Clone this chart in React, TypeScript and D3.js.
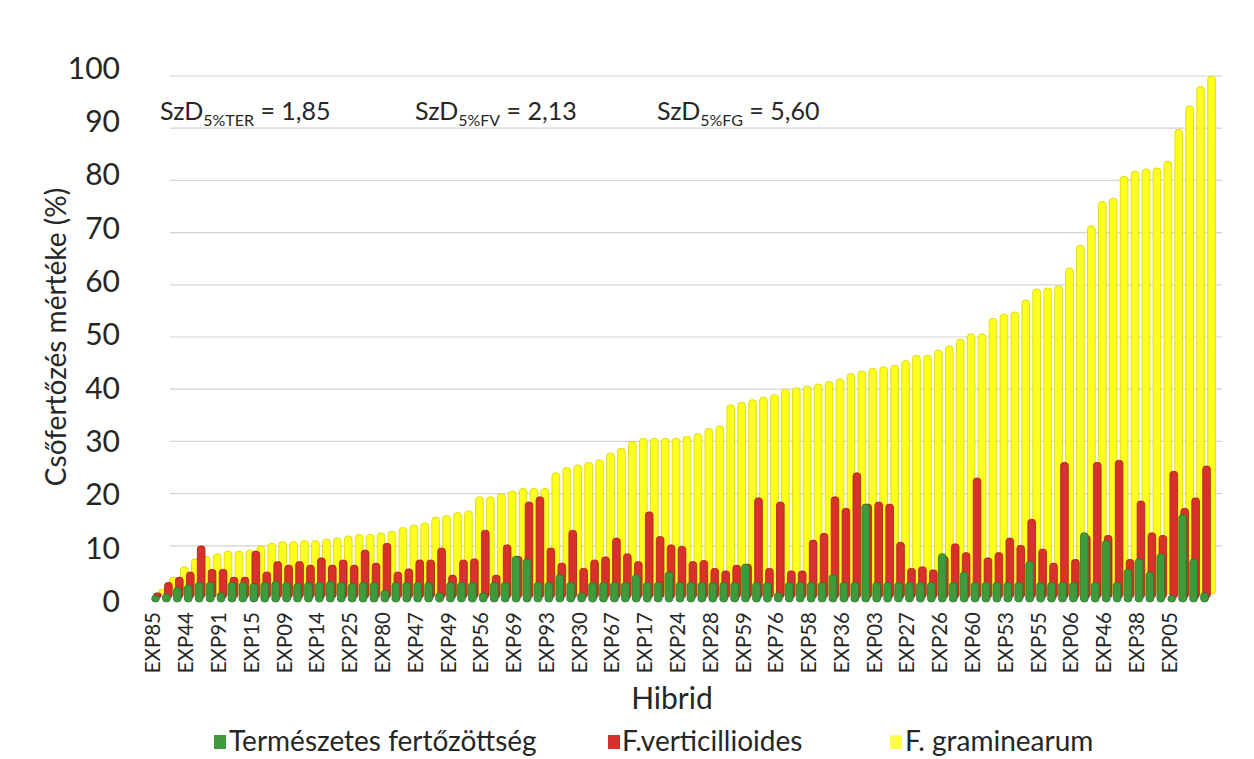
import React from 'react'
import * as d3 from 'd3'

// shown tick labels (Excel shows every 3rd hybrid)
const hybridLabels = ['EXP85', 'EXP44', 'EXP91', 'EXP15', 'EXP09', 'EXP14', 'EXP25', 'EXP80', 'EXP47', 'EXP49', 'EXP56',
  'EXP69', 'EXP93', 'EXP30', 'EXP67', 'EXP17', 'EXP24', 'EXP28', 'EXP59', 'EXP76', 'EXP58', 'EXP36', 'EXP03', 'EXP27',
  'EXP26', 'EXP60', 'EXP53', 'EXP55', 'EXP06', 'EXP46', 'EXP38', 'EXP05']
const labelEvery = 3

const termeszetes = [
  0.5, 0.8, 2, 2.5, 3, 3, 1, 3, 3, 2.8,
  3, 3.2, 3, 2.8, 3, 3, 3.2, 3, 2.8, 3,
  3, 1.5, 3, 3, 3, 3, 1, 3, 3, 3,
  1, 3, 3, 8, 7.5, 3, 3, 4.5, 3, 1,
  3, 3, 3, 3, 4.5, 3, 3, 5, 3, 3,
  3, 3, 3, 3, 6.5, 3, 3, 1, 3, 3,
  3, 3, 4.5, 3, 3, 18, 3, 3, 3, 3,
  3, 3, 8.5, 3, 5, 3, 3, 3, 3, 3,
  7, 3, 3, 3, 3, 12.5, 3, 11, 3, 5.5,
  7.5, 5, 8.5, 0.5, 16, 7.5, 1
]
const verticillioides = [
  1, 3, 4, 5, 10, 5.5, 5.5, 4, 4, 9,
  5, 7, 6.3, 7, 6.3, 7.7, 6.3, 7.3, 6.3, 9.2,
  6.7, 10.5, 5, 5.6, 7.3, 7.3, 9.6, 4.4, 7.3, 7.5,
  13, 4.4, 10.2, 8, 18.4, 19.4, 9.6, 6.7, 13, 5.7,
  7.3, 7.9, 11.5, 8.5, 7, 16.5, 11.8, 10.2, 9.9, 7,
  7.2, 5.7, 5.2, 6.3, 6.5, 19.2, 5.7, 18.4, 5.2, 5.2,
  11.1, 12.4, 19.4, 17.2, 24, 18, 18.4, 18, 10.7, 5.7,
  6, 5.4, 8, 10.4, 8.7, 23, 7.7, 8.7, 11.5, 10.1,
  15.1, 9.4, 6.7, 26, 7.4, 12, 26, 12, 26.4, 7.4,
  18.6, 12.5, 12, 24.3, 17.2, 19.2, 25.3
]
const graminearum = [
  1.5, 4, 6, 7.5, 8, 8.5, 9, 9, 9.2, 10,
  10.5, 10.8, 10.8, 11, 11, 11.3, 11.5, 11.9, 12.2, 12.2,
  12.5, 12.8, 13.5, 14, 14.4, 15.5, 15.8, 16.4, 16.7, 19.4,
  19.4, 20, 20.5, 21, 21, 21, 24, 25, 25.5, 26,
  26.5, 27.8, 28.7, 30, 30.6, 30.6, 30.6, 30.6, 31, 31.5,
  32.5, 33, 37, 37.5, 38, 38.5, 39, 40, 40.3, 40.6,
  41, 41.5, 42, 43, 43.5, 44, 44.3, 44.6, 45.5, 46.5,
  46.5, 47.5, 48.3, 49.6, 50.6, 50.6, 53.6, 54.4, 54.8, 57.1,
  59.2, 59.4, 59.8, 63.2, 67.6, 71.3, 76, 76.6, 80.8, 81.8,
  82.2, 82.4, 83.7, 89.8, 94.3, 98, 100
]
const yTicks = [0, 10, 20, 30, 40, 50, 60, 70, 80, 90, 100]

const font = 'Lato, "Open Sans", sans-serif'
const txt = '#262626'

export default function App() {
  const n = graminearum.length
  const x = d3.scaleBand<number>().domain(d3.range(n)).range([151, 1211]).paddingInner(0.3).paddingOuter(0.15)
  const yBar = d3.scaleLinear().domain([0, 100]).range([598, 76])
  const yLab = d3.scaleLinear().domain([0, 100]).range([601, 68])
  const bw = x.bandwidth()
  const cx = (i: number) => (x(i) as number) + bw / 2

  // yellow behind, red middle, green front (fake 3D depth offsets)
  const layers = [
    { data: graminearum, fill: '#ffff1e', stroke: '#d6d400', dx: 6, base: 594 },
    { data: verticillioides, fill: '#d8302c', stroke: '#a81e1c', dx: 1, base: 598 },
    { data: termeszetes, fill: '#3e9a3b', stroke: '#2b7429', dx: -1, base: 602 },
  ]

  return (
    <svg width={1254} height={759} style={{ position: 'absolute', left: 0, top: 0, background: '#fff' }}>
      {/* back wall gridlines */}
      <g>
        {yTicks.filter(t => t > 0).map(t => (
          <line key={t} x1={170} x2={1222} y1={yBar(t)} y2={yBar(t)} stroke="#d4d4d4" strokeWidth={1.2} />
        ))}
      </g>

      {layers.map((l, li) => (
        <g key={li}>
          {l.data.map((v, i) => {
            const top = Math.min(yBar(v), l.base - 5)
            return (
              <rect key={i} x={cx(i) + l.dx - bw / 2} y={top} width={bw} height={l.base - top}
                rx={bw / 2} ry={3} fill={l.fill} stroke={l.stroke} strokeWidth={0.8} />
            )
          })}
        </g>
      ))}

      {/* y axis labels */}
      <g fontFamily={font} fontSize={30} fill={txt} textAnchor="end">
        {yTicks.map(t => (
          <text key={t} x={120} y={yLab(t)} dy="0.36em">{t}</text>
        ))}
      </g>

      {/* x axis labels */}
      <g fontFamily={font} fontSize={20.5} fill={txt} textAnchor="end">
        {hybridLabels.map((lab, k) => {
          const i = k * labelEvery
          return (
            <text key={lab} transform={`translate(${cx(i) + 4},612) rotate(-90)`}>{lab}</text>
          )
        })}
      </g>

      <text x={672} y={709} fontFamily={font} fontSize={30} fill={txt} textAnchor="middle">Hibrid</text>
      <text transform="translate(66,337) rotate(-90)" fontFamily={font} fontSize={28} fill={txt} textAnchor="middle">
        Csőfertőzés mértéke (%)
      </text>

      {/* LSD annotations */}
      <g fontFamily={font} fontSize={25} fill={txt}>
        <text x={160} y={120}>SzD<tspan fontSize={16} dy={6}>5%TER</tspan><tspan dy={-6}> = 1,85</tspan></text>
        <text x={415} y={120}>SzD<tspan fontSize={16} dy={6}>5%FV</tspan><tspan dy={-6}> = 2,13</tspan></text>
        <text x={657} y={120}>SzD<tspan fontSize={16} dy={6}>5%FG</tspan><tspan dy={-6}> = 5,60</tspan></text>
      </g>

      {/* legend */}
      <g fontFamily={font} fontSize={28} fill={txt}>
        <rect x={214} y={735} width={12} height={14} fill="#3e9a3b" />
        <text x={229} y={751}>Természetes fertőzöttség</text>
        <rect x={608} y={735} width={12} height={14} fill="#d8302c" />
        <text x={622} y={751}>F.verticillioides</text>
        <rect x={890} y={735} width={12} height={14} fill="#ffff4a" />
        <text x={905} y={751}>F. graminearum</text>
      </g>
    </svg>
  )
}
